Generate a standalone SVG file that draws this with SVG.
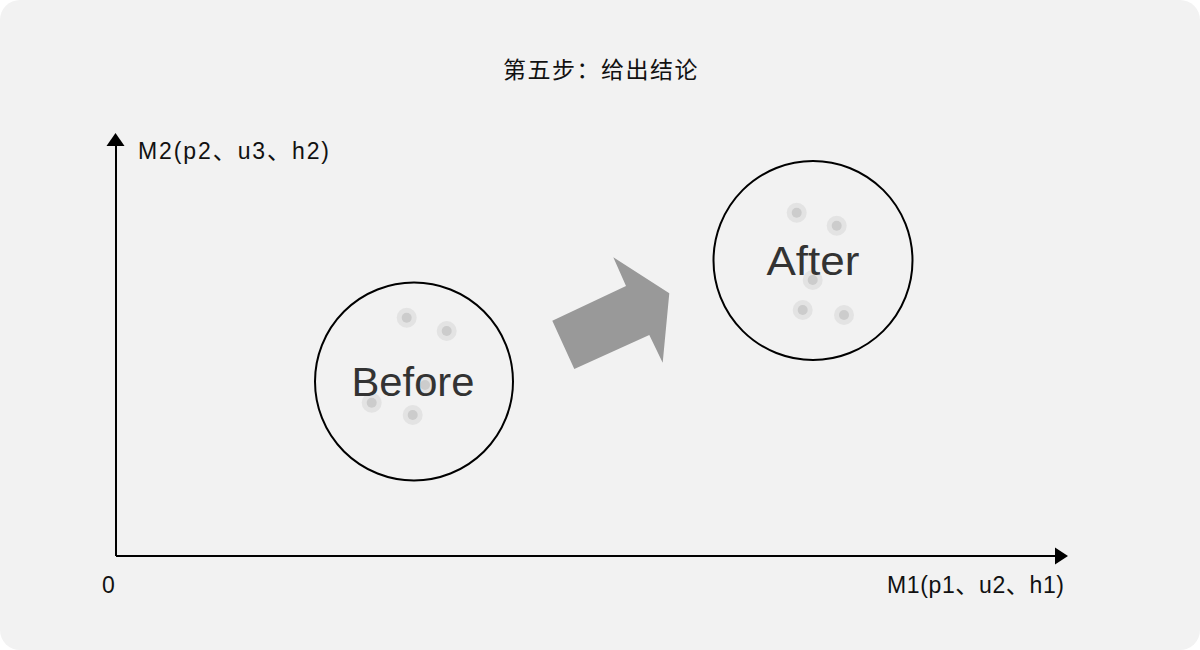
<svg xmlns="http://www.w3.org/2000/svg" width="1200" height="650" viewBox="0 0 1200 650">
<style>
.axis{stroke:#000;stroke-width:2;fill:none}
.ring{fill:none;stroke:#000;stroke-width:2}
.halo{fill:#e3e3e3}
.core{fill:#cccccc}
.lbl{font-family:"Liberation Sans","Noto Sans CJK SC",sans-serif;font-size:23px;fill:#111}
.big{font-family:"Liberation Sans",Arial,sans-serif;font-size:40px;fill:#333;text-anchor:middle}
.title{font-family:"Noto Sans CJK SC","Noto Sans",sans-serif;font-size:23px;font-weight:400;fill:#111;text-anchor:middle;letter-spacing:1.5px}
</style>
<defs>
<g id="dot"><circle r="10" class="halo"/><circle r="5" class="core"/></g>
</defs>
<rect x="0" y="0" width="1200" height="650" rx="20" fill="#f2f2f2"/>
<text id="title" class="title" x="601" y="78">第五步：给出结论</text>
<g id="connectors">
<line class="axis" x1="116" y1="556" x2="1056" y2="556"/>
<polygon points="1068,556 1055,547.5 1055,564.5" fill="#000"/>
<line class="axis" x1="116" y1="556" x2="116" y2="145"/>
<polygon points="115.5,133 106.5,146 124.5,146" fill="#000"/>
<polygon id="move-arrow" points="552.3,320.7 574.3,369 649.3,335 662.7,362.7 669.3,293.3 613.3,257.3 626,286" fill="#999999"/>
</g>
<g id="axis-labels">
<text class="lbl" x="138" y="159" textLength="191" lengthAdjust="spacing">M2(p2、u3、h2)</text>
<text class="lbl" x="887" y="593" textLength="177" lengthAdjust="spacing">M1(p1、u2、h1)</text>
<text class="lbl" x="102" y="593">0</text>
</g>
<g id="before">
<circle class="ring" cx="414" cy="381.5" r="99"/>
<use href="#dot" x="406.7" y="317.7"/>
<use href="#dot" x="446.7" y="331"/>
<use href="#dot" x="425" y="385"/>
<use href="#dot" x="371.7" y="402.7"/>
<use href="#dot" x="412.7" y="415"/>
<text class="big" x="413" y="396" textLength="123" lengthAdjust="spacingAndGlyphs">Before</text>
</g>
<g id="after">
<circle class="ring" cx="813" cy="260.5" r="99.5"/>
<use href="#dot" x="796.7" y="212.7"/>
<use href="#dot" x="836.7" y="225.7"/>
<use href="#dot" x="812.7" y="280"/>
<use href="#dot" x="802.7" y="310"/>
<use href="#dot" x="844" y="315"/>
<text class="big" x="813" y="275" textLength="93" lengthAdjust="spacingAndGlyphs">After</text>
</g>
</svg>
